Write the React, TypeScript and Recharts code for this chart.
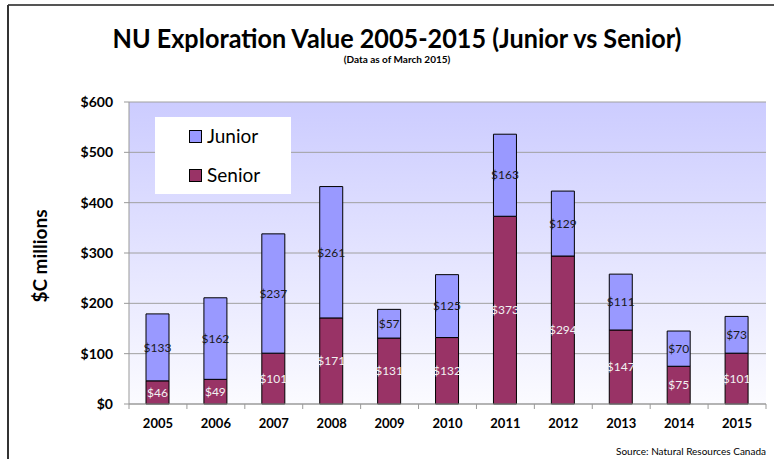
import React from 'react';
import { BarChart, Bar, XAxis, YAxis, CartesianGrid, LabelList } from 'recharts';

const years = ['2005', '2006', '2007', '2008', '2009', '2010', '2011', '2012', '2013', '2014', '2015'];
const junior = [133, 162, 237, 261, 57, 125, 163, 129, 111, 70, 73];
const senior = [46, 49, 101, 171, 131, 132, 373, 294, 147, 75, 101];
const yTicks = [0, 100, 200, 300, 400, 500, 600];

const data = years.map((year, i) => ({ year, junior: junior[i], senior: senior[i] }));

const W = 774;
const H = 459;
const M = { top: 102, right: 8, bottom: 25, left: 0 };
const Y_WIDTH = 129;
const band = (W - M.right - M.left - Y_WIDTH) / years.length;
const font = 'Lato, "Open Sans", sans-serif';

const money = (v: any) => '$' + v;

const XTick = (props: any) => {
  const { x, y, payload, index } = props;
  const last = index === years.length - 1;
  return (
    <g>
      <line x1={x - band / 2} x2={x - band / 2} y1={y} y2={y + 5} stroke="#999" />
      {last && <line x1={x + band / 2} x2={x + band / 2} y1={y} y2={y + 5} stroke="#999" />}
      <text x={x} y={y + 24} textAnchor="middle" fontFamily={font} fontWeight={700} fontSize={13} fill="#000">
        {payload.value}
      </text>
    </g>
  );
};

const LegendBox = () => (
  <div
    style={{
      position: 'absolute', left: 155, top: 117, width: 136, height: 77, background: '#fff',
      fontFamily: font, fontSize: 19, color: '#000',
    }}
  >
    {[['Junior', '#9999ff', 9], ['Senior', '#993366', 48]].map(([name, color, top]) => (
      <div key={name as string} style={{ position: 'absolute', left: 34, top: top as number, display: 'flex', alignItems: 'center' }}>
        <span style={{ width: 11, height: 11, background: color as string, border: '1px solid #000', marginRight: 5 }} />
        <span style={{ lineHeight: '20px' }}>{name}</span>
      </div>
    ))}
  </div>
);

export default function App() {
  return (
    <div style={{ position: 'absolute', left: 0, top: 0, width: W, height: H, background: '#fff' }}>
      <BarChart width={W} height={H} data={data} margin={M} barSize={23}>
        <defs>
          <linearGradient id="plotBg" x1="0" y1="0" x2="0" y2="1">
            <stop offset="0%" stopColor="#ccccff" />
            <stop offset="100%" stopColor="#fbfbff" />
          </linearGradient>
        </defs>
        <CartesianGrid vertical={false} stroke="#a0a0a0" fill="url(#plotBg)" fillOpacity={1} />
        <XAxis
          dataKey="year"
          height={30}
          axisLine={{ stroke: '#999' }}
          tickLine={false}
          tickSize={0}
          tickMargin={0}
          tick={<XTick />}
          interval={0}
        />
        <YAxis
          width={Y_WIDTH}
          domain={[0, 600]}
          ticks={yTicks}
          tickFormatter={money}
          axisLine={{ stroke: '#999' }}
          tickLine={{ stroke: '#999' }}
          tickSize={5}
          tickMargin={11}
          tick={{ fontFamily: font, fontWeight: 700, fontSize: 14, fill: '#000' }}
        />
        <Bar dataKey="senior" stackId="a" fill="#993366" stroke="#000" strokeWidth={1} isAnimationActive={false}>
          <LabelList dataKey="senior" position="center" formatter={money} fill="#f2f2f2" fontFamily={font} fontSize={12} />
        </Bar>
        <Bar dataKey="junior" stackId="a" fill="#9999ff" stroke="#000" strokeWidth={1} isAnimationActive={false}>
          <LabelList dataKey="junior" position="center" formatter={money} fill="#1a1a1a" fontFamily={font} fontSize={12} />
        </Bar>
      </BarChart>
      <LegendBox />
      <svg width={W} height={H} style={{ position: 'absolute', left: 0, top: 0, pointerEvents: 'none' }}>
        <line x1={8} x2={W} y1={5} y2={5} stroke="#555" strokeWidth={2} />
        <line x1={8} x2={8} y1={5} y2={H} stroke="#333" strokeWidth={2} />
        <text x={397} y={48} textAnchor="middle" fontFamily={font} fontWeight={700} fontSize={27} fill="#000"
          textLength={569} lengthAdjust="spacingAndGlyphs">
          NU Exploration Value 2005-2015 (Junior vs Senior)
        </text>
        <text x={397} y={63} textAnchor="middle" fontFamily={font} fontWeight={700} fontSize={10} fill="#000">
          (Data as of March 2015)
        </text>
        <text x={0} y={0} transform="translate(47,256) rotate(-90)" textAnchor="middle" fontFamily={font}
          fontWeight={700} fontSize={19} fill="#000">
          $C millions
        </text>
        <text x={766} y={455} textAnchor="end" fontFamily={font} fontSize={10} fill="#000">
          Source: Natural Resources Canada
        </text>
      </svg>
    </div>
  );
}
